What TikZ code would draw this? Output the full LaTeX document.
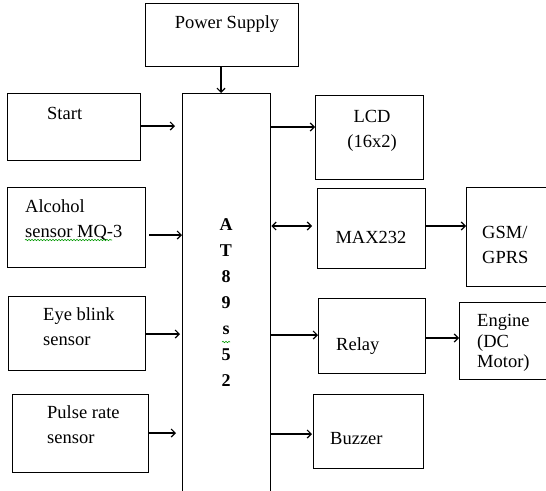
\documentclass[tikz,border=0pt]{standalone}
\usepackage{fontspec}
\setmainfont{Liberation Serif}
\usetikzlibrary{arrows.meta,decorations.pathmorphing}
\begin{document}
\begin{tikzpicture}[x=1pt,y=-1pt,
  blk/.style={draw,line width=1.3pt,inner sep=0pt,anchor=north west},
  lbl/.style={inner sep=0pt,align=left,font=\fontsize{18.5}{25}\selectfont},
  arr/.style={line width=1.2pt,-{Straight Barb[length=4pt,width=8pt,line width=1.2pt]}},
  darr/.style={line width=1.2pt,{Straight Barb[length=4pt,width=8pt,line width=1.2pt]}-{Straight Barb[length=4pt,width=8pt,line width=1.2pt]}},
  squig/.style={draw=green!60!black,line width=0.6pt,decorate,decoration={snake,amplitude=0.7pt,segment length=3pt}}]
\useasboundingbox (0,0) rectangle (546,490);
\clip (0,0) rectangle (546,490);
% boxes
\node[blk,minimum width=153pt,minimum height=63pt] (ps) at (145,3) {};
\node[blk,minimum width=88pt,minimum height=420pt] (mcu) at (182,93) {};
\node[blk,minimum width=133pt,minimum height=67pt] (start) at (7,93) {};
\node[blk,minimum width=138pt,minimum height=80pt] (alc) at (7,187) {};
\node[blk,minimum width=137pt,minimum height=74pt] (eye) at (8,296) {};
\node[blk,minimum width=136pt,minimum height=78pt] (pulse) at (12,394) {};
\node[blk,minimum width=108pt,minimum height=84pt] (lcd) at (315,95) {};
\node[blk,minimum width=108pt,minimum height=80pt] (max) at (317,188) {};
\node[blk,minimum width=100pt,minimum height=99pt] (gsm) at (466,187) {};
\node[blk,minimum width=107pt,minimum height=75pt] (relay) at (318,298) {};
\node[blk,minimum width=100pt,minimum height=77pt] (engine) at (459,302) {};
\node[blk,minimum width=110pt,minimum height=74pt] (buzzer) at (313,394) {};
% labels
\node[lbl] (tps) at (227,24) {Power Supply};
\node[lbl,anchor=west] (tstart) at (47,113) {Start};
\node[lbl,anchor=west] (talc) at (25,220) {Alcohol\\sensor MQ-3};
\node[lbl,anchor=west] (teye) at (43,327) {Eye blink\\sensor};
\node[lbl,anchor=west] (tpulse) at (47,425) {Pulse rate\\sensor};
\node[lbl,align=center] (tlcd) at (372,131) {LCD\\(16x2)};
\node[lbl] (tmax) at (371,237) {MAX232};
\node[lbl,anchor=west] (tgsm) at (482,245) {GSM/\\GPRS};
\node[lbl,anchor=west] (trelay) at (336,346) {Relay};
\node[lbl,anchor=west,font=\fontsize{18.5}{20.5}\selectfont] (tengine) at (477,343) {Engine\\(DC\\Motor)};
\node[lbl,anchor=west] (tbuzzer) at (330,439) {Buzzer};
\node[inner sep=0pt,align=center,font=\fontsize{18}{26}\selectfont\bfseries] (tmcu) at (226,303) {A\\T\\8\\9\\s\\5\\2};
% spell-check underlines
\draw[squig] (25,240) -- (112,240);
\draw[squig] (222,342) -- (230,342);
% connectors
\draw[arr] (ps.south -| 221,0) -- (mcu.north -| 221,0);
\draw[arr,shorten >=7pt] (start.east |- 0,126) -- (mcu.west |- 0,126);
\draw[arr] (alc.east |- 0,235) ++(3,0) -- (mcu.west |- 0,235);
\draw[arr,shorten >=2pt] (eye.east |- 0,334) -- (mcu.west |- 0,334);
\draw[arr,shorten >=6pt] (pulse.east |- 0,433) -- (mcu.west |- 0,433);
\draw[arr] (mcu.east |- 0,127) -- (lcd.west |- 0,127);
\draw[darr,shorten >=5pt] (mcu.east |- 0,226) -- (max.west |- 0,226);
\draw[arr] (max.east |- 0,226) -- (gsm.west |- 0,226);
\draw[arr] (mcu.east |- 0,335) -- (relay.west |- 0,335);
\draw[arr] (relay.east |- 0,338) -- (engine.west |- 0,338);
\draw[arr,shorten >=1pt] (mcu.east |- 0,434) -- (buzzer.west |- 0,434);
\end{tikzpicture}
\end{document}
